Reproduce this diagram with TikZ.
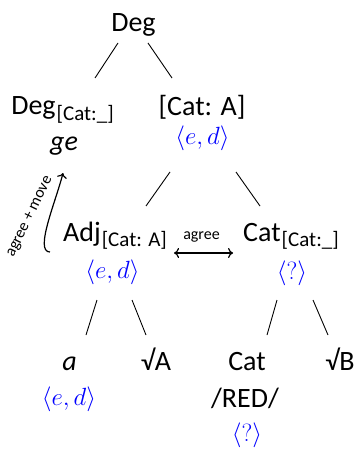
\documentclass[tikz,border=0pt]{standalone}
\usepackage{fontspec}
\setmainfont{Carlito}
\usetikzlibrary{calc, arrows.meta}

% feature bundle set as a lowered subscript
\newcommand{\feat}[1]{\kern1pt\raisebox{-5.5pt}{\fontsize{21}{24}\selectfont #1}}

\begin{document}
\begin{tikzpicture}[x=1pt, y=1pt,
	lab/.style={anchor=base, inner sep=0pt, font=\fontsize{28}{34}\selectfont},
	sem/.style={lab, text=blue},
	small/.style={inner sep=0pt, font=\fontsize{16}{19}\selectfont},
	branch/.style={line width=0.9pt},
	mv/.style={line width=1.2pt, -{To[length=5pt,width=10pt]}},
	agr/.style={line width=1.2pt, {To[length=5pt,width=10pt]}-{To[length=5pt,width=10pt]}}]
	\useasboundingbox (0,0) rectangle (355,-449);

	% top
	\node[lab] (deg) at (133.5,-32) {Deg};

	% second level
	\node[lab] (degsub) at (62.5,-115) {Deg\feat{[Cat:\_]}};
	\node[lab] (ge) at (64,-151) {\textit{ge}};
	\node[lab] (catA) at (202,-116) {[Cat: A]};
	\node[sem] (catAsem) at (202.5,-145) {$\langle e,d\rangle$};

	% third level
	\node[lab] (adj) at (115,-241) {Adj\feat{[Cat: A]}};
	\node[sem] (adjsem) at (112.5,-278) {$\langle e,d\rangle$};
	\node[lab] (cat) at (291,-241) {Cat\feat{[Cat:\_]}};
	\node[sem] (catsem) at (292,-279) {$\langle ?\rangle$};

	% leaves
	\node[lab] (a) at (69.5,-370) {\textit{a}};
	\node[sem] (asem) at (69,-405) {$\langle e,d\rangle$};
	\node[lab] (rootA) at (156,-370) {√A};
	\node[lab] (catn) at (247,-370) {Cat};
	\node[lab] (red) at (245,-407) {/RED/};
	\node[sem] (catnsem) at (247,-441) {$\langle ?\rangle$};
	\node[lab] (rootB) at (340,-370) {√B};

	% branches
	\draw[branch] ($(deg.base)+(-15.5,-11)$) -- ($(degsub.base)+(32.5,37)$);
	\draw[branch] ($(deg.base)+(14.5,-11)$) -- ($(catA.base)+(-30,38)$);
	\draw[branch] ($(catAsem.base)+(-32.5,-27)$) -- ($(adj.base)+(31,35)$);
	\draw[branch] ($(catAsem.base)+(33.5,-27)$) -- ($(cat.base)+(-31,35)$);
	\draw[branch] ($(adjsem.base)+(-15.5,-22)$) -- ($(a.base)+(16.5,35)$);
	\draw[branch] ($(adjsem.base)+(19.5,-22)$) -- ($(rootA.base)+(-10,35)$);
	\draw[branch] ($(catsem.base)+(-15,-21)$) -- ($(catn.base)+(20,35)$);
	\draw[branch] ($(catsem.base)+(21,-21)$) -- ($(rootB.base)+(-12,35)$);

	% agree between the adjective and Cat
	\node[small, anchor=base] (agree) at (201.5,-239) {agree};
	\draw[agr] ($(adj.base east)+(7,-12)$) -- ($(cat.base west)+(-10,-12)$);

	% movement up to ge
	\node[small, rotate=64] (agmove) at (30,-217) {agree + move};
	\draw[mv] ($(adj.base west)+(-13,-11)$) .. controls +(-16,0) and +(-7,-28) .. ($(ge.base)+(-1,-22)$);
\end{tikzpicture}
\end{document}
